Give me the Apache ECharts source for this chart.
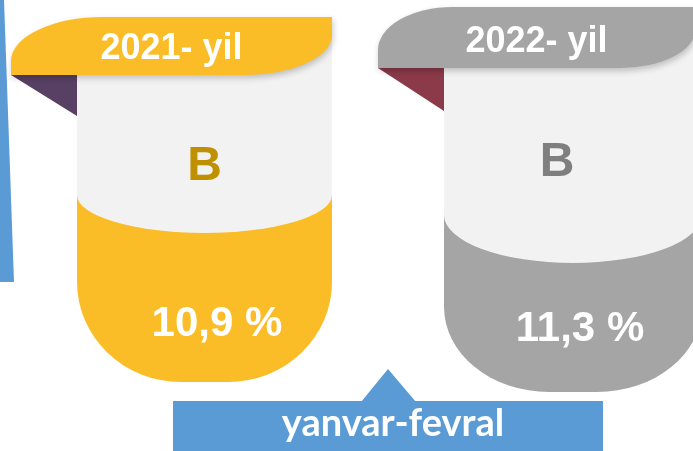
<!DOCTYPE html>
<html><head><meta charset="utf-8">
<script src="https://cdn.jsdelivr.net/npm/echarts@6/dist/echarts.min.js"></script>
<style>html,body{margin:0;padding:0;background:#fff;overflow:hidden}#c{width:693px;height:451px}</style>
</head><body><div id="c"></div>
<script>
// ---- data ----
const years = ['2021- yil', '2022- yil'];
const letters = ['B', 'B'];
const values = [10.9, 11.3];
const periodLabel = 'yanvar-fevral';

// ---- styling / geometry (relative to each category centre) ----
const cardStyles = [
  { main: '#FBBD27', tri: '#574063', letter: '#BF9000',
    hL: -193.5, hR: 127.5, hT: 17, hB: 75, tl: [92, 44], br: [88, 40],
    half: 127.5, triB: 116, bodyT: 30, ellCy: 195, ellRy: 38,
    botT: 140, botB: 382, botR: [104, 100],
    yearY: 49, letterDx: 0, letterY: 167, valDx: 12.5, valY: 324 },
  { main: '#A5A5A5', tri: '#8B3A4A', letter: '#7F7F7F',
    hL: -195, hR: 122, hT: 7, hB: 68, tl: [75, 43], br: [75, 38],
    half: 129, triB: 111, bodyT: 20, ellCy: 215, ellRy: 48,
    botT: 180, botB: 392, botR: [105, 85],
    yearY: 42, letterDx: -16, letterY: 163, valDx: 7, valY: 329 }
];

function fmt(v) { return String(v).replace('.', ',') + ' %'; }

function renderItem(params, api) {
  const i = api.value(0);
  const v = api.value(1);
  const cx = api.coord([i, 0])[0];
  const s = cardStyles[i];
  const L = cx + s.hL, R = cx + s.hR, T = s.hT, B = s.hB;
  const bl = cx - s.half, br = cx + s.half;
  const headerPath =
    `M${L} ${B} L${L} ${T + s.tl[1]} A${s.tl[0]} ${s.tl[1]} 0 0 1 ${L + s.tl[0]} ${T} ` +
    `L${R} ${T} L${R} ${B - s.br[1]} A${s.br[0]} ${s.br[1]} 0 0 1 ${R - s.br[0]} ${B} Z`;
  const bottomPath =
    `M${bl} ${s.botT} L${br} ${s.botT} L${br} ${s.botB - s.botR[1]} ` +
    `A${s.botR[0]} ${s.botR[1]} 0 0 1 ${br - s.botR[0]} ${s.botB} ` +
    `L${bl + s.botR[0]} ${s.botB} A${s.botR[0]} ${s.botR[1]} 0 0 1 ${bl} ${s.botB - s.botR[1]} Z`;
  const bodyPath =
    `M${bl} ${s.bodyT} L${br} ${s.bodyT} L${br} ${s.ellCy} ` +
    `A${s.half} ${s.ellRy} 0 0 1 ${bl} ${s.ellCy} Z`;
  return {
    type: 'group',
    children: [
      { type: 'polygon', shape: { points: [[L, B], [bl, B], [bl, s.triB]] }, style: { fill: s.tri } },
      { type: 'path', shape: { pathData: bottomPath }, style: { fill: s.main } },
      { type: 'path', shape: { pathData: bodyPath }, style: { fill: '#F2F2F2' } },
      { type: 'path', shape: { pathData: headerPath },
        style: { fill: s.main, shadowBlur: 6, shadowOffsetX: 1, shadowOffsetY: 3, shadowColor: 'rgba(0,0,0,0.22)' } },
      { type: 'text', style: { text: years[i], x: (L + R) / 2, y: s.yearY, align: 'center', verticalAlign: 'middle',
          fill: '#fff', font: 'bold 36px "Liberation Sans", Arial, sans-serif' } },
      { type: 'text', style: { text: letters[i], x: cx + s.letterDx, y: s.letterY, align: 'center', verticalAlign: 'middle',
          fill: s.letter, font: 'bold 48px "Liberation Sans", Arial, sans-serif' } },
      { type: 'text', style: { text: fmt(v), x: cx + s.valDx, y: s.valY, align: 'center', verticalAlign: 'middle',
          fill: '#fff', font: 'bold 42px "Liberation Sans", Arial, sans-serif' } }
    ]
  };
}

const chart = echarts.init(document.getElementById('c'), null, { renderer: 'canvas' });
chart.setOption({
  backgroundColor: '#ffffff',
  animation: false,
  grid: { left: 204.5, right: 120, top: 0, bottom: 0, containLabel: false },
  xAxis: { type: 'category', data: years, show: false, boundaryGap: false },
  yAxis: { type: 'value', min: 0, max: 20, show: false },
  graphic: [
    { type: 'polygon', z: 1, shape: { points: [[0, 0], [4, 0], [14, 282], [0, 282]] }, style: { fill: '#5B9BD5' } },
    { type: 'polygon', z: 1, shape: { points: [[361, 402], [388, 369], [416, 402]] }, style: { fill: '#5B9BD5' } },
    { type: 'rect', z: 1, shape: { x: 173, y: 401, width: 430, height: 60 }, style: { fill: '#5B9BD5' } },
    { type: 'text', z: 2, style: { text: periodLabel, x: 393, y: 424, align: 'center', verticalAlign: 'middle',
        fill: '#fff', font: 'bold 38px Lato, "Open Sans", sans-serif' } }
  ],
  series: [{
    type: 'custom',
    renderItem: renderItem,
    data: values.map((v, i) => [i, v]),
    clip: false
  }]
});
</script>
</body></html>
